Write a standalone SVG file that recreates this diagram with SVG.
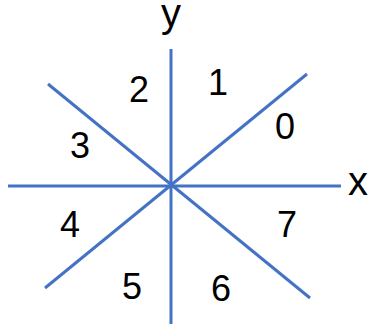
<svg xmlns="http://www.w3.org/2000/svg" width="372" height="324" viewBox="0 0 372 324">
<style>
.ax{stroke:#4472C4;stroke-width:3;fill:none;stroke-linecap:butt}
.t{font-family:"Liberation Sans",Arial,sans-serif;font-size:36px;fill:#000;text-anchor:middle}
.a{font-family:"Liberation Sans",Arial,sans-serif;font-size:40px;fill:#000;text-anchor:middle}
</style>
<rect width="372" height="324" fill="#fff"/>
<g id="connectors">
<line class="ax" x1="171" y1="49" x2="171" y2="324"/>
<line class="ax" x1="8" y1="186" x2="341" y2="186"/>
<line class="ax" x1="48" y1="84" x2="310" y2="298"/>
<line class="ax" x1="307" y1="74" x2="45" y2="288"/>
</g>
<g id="label-y"><text class="a" x="171" y="27">y</text></g>
<g id="label-x"><text class="a" x="358" y="195">x</text></g>
<g id="label-0"><text class="t" x="285" y="139">0</text></g>
<g id="label-1"><text class="t" x="218" y="95">1</text></g>
<g id="label-2"><text class="t" x="139" y="102">2</text></g>
<g id="label-3"><text class="t" x="80" y="158">3</text></g>
<g id="label-4"><text class="t" x="70" y="237">4</text></g>
<g id="label-5"><text class="t" x="132" y="299">5</text></g>
<g id="label-6"><text class="t" x="221" y="301">6</text></g>
<g id="label-7"><text class="t" x="287" y="237">7</text></g>
</svg>
